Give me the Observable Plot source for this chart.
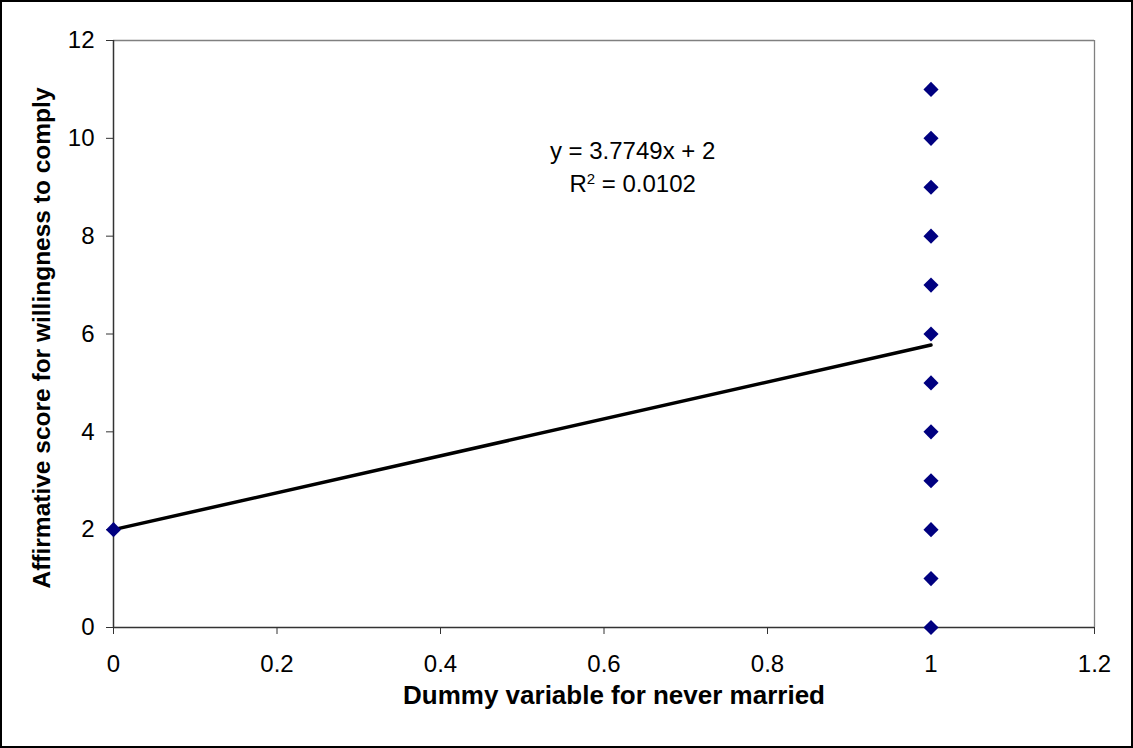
<!DOCTYPE html>
<html>
<head>
<meta charset="utf-8">
<script src="https://cdn.jsdelivr.net/npm/d3@7"></script>
<script src="https://cdn.jsdelivr.net/npm/@observablehq/plot@0.6"></script>
<style>
  html, body { margin: 0; padding: 0; background: #fff; }
  #wrap { position: relative; width: 1133px; height: 748px; }
  #frame { position: absolute; left: 0; top: 0; width: 1133px; height: 748px; box-sizing: border-box; border: 2px solid #000; pointer-events: none; }
  svg text { font-family: "Liberation Sans", Arial, sans-serif; }
</style>
</head>
<body>
<div id="wrap"><div id="frame"></div></div>
<script>
// Data
const groupX = [0, 1, 1, 1, 1, 1, 1, 1, 1, 1, 1, 1, 1];
const scoreY = [2, 0, 1, 2, 3, 4, 5, 6, 7, 8, 9, 10, 11];
const slope = 3.7749;
const intercept = 2;
const trendX = [0, 1];
const xTicks = [0, 0.2, 0.4, 0.6, 0.8, 1, 1.2];
const yTicks = [0, 2, 4, 6, 8, 10, 12];
const equationText = "y = 3.7749x + 2";
const r2Text = "R2 = 0.0102";
const xTitle = "Dummy variable for never married";
const yTitle = "Affirmative score for willingness to comply";

const points = groupX.map((x, i) => ({x, y: scoreY[i]}));
const trend = trendX.map(x => ({x, y: slope * x + intercept}));

const chart = Plot.plot({
  width: 1133,
  height: 748,
  marginLeft: 113,
  marginRight: 39,
  marginTop: 40,
  marginBottom: 121,
  style: {fontSize: "24px", fontFamily: "Liberation Sans, Arial, sans-serif", color: "#000", background: "transparent"},
  x: {domain: [0, 1.2], label: null},
  y: {domain: [0, 12], label: null},
  marks: [
    Plot.ruleY([12], {stroke: "#808080", strokeWidth: 1.3}),
    Plot.ruleX([1.2], {stroke: "#808080", strokeWidth: 1.3}),
    Plot.axisX({ticks: xTicks, tickSize: 7, tickPadding: 20, stroke: "#333", fontSize: 24, tickFormat: d => String(d)}),
    Plot.axisY({ticks: yTicks, tickSize: 7, tickPadding: 12, stroke: "#333", fontSize: 24, tickFormat: d => String(d)}),
    Plot.ruleY([0], {stroke: "#333", strokeWidth: 1.5}),
    Plot.ruleX([0], {stroke: "#333", strokeWidth: 1.5}),
    Plot.line(trend, {x: "x", y: "y", stroke: "#000", strokeWidth: 3.5}),
    Plot.dot(points, {x: "x", y: "y", symbol: "diamond2", r: 6.8, fill: "#000080", stroke: "none"}),
    Plot.text([equationText], {x: 0.635, y: 9.73, text: d => d, fontSize: 24, fill: "#000"}),
    Plot.text([r2Text], {x: 0.635, y: 9.05, text: d => d, fontSize: 24, fill: "#000", className: "r2label"}),
    Plot.text([xTitle], {frameAnchor: "bottom", dx: 10, dy: 76, text: d => d, fontSize: 26, fontWeight: "bold", fill: "#000"}),
    Plot.text([yTitle], {frameAnchor: "left", textAnchor: "middle", dx: -71, dy: 4, rotate: -90, text: d => d, fontSize: 24.5, fontWeight: "bold", fill: "#000"})
  ]
});
document.getElementById("wrap").prepend(chart);

// superscript the 2 in R2
const r2 = chart.querySelector(".r2label text");
if (r2) {
  r2.textContent = "";
  const ns = "http://www.w3.org/2000/svg";
  const a = document.createElementNS(ns, "tspan"); a.textContent = "R";
  const b = document.createElementNS(ns, "tspan"); b.textContent = "2";
  b.setAttribute("baseline-shift", "super"); b.setAttribute("font-size", "15");
  const c = document.createElementNS(ns, "tspan"); c.textContent = " = 0.0102";
  r2.append(a, b, c);
}
</script>
</body>
</html>
